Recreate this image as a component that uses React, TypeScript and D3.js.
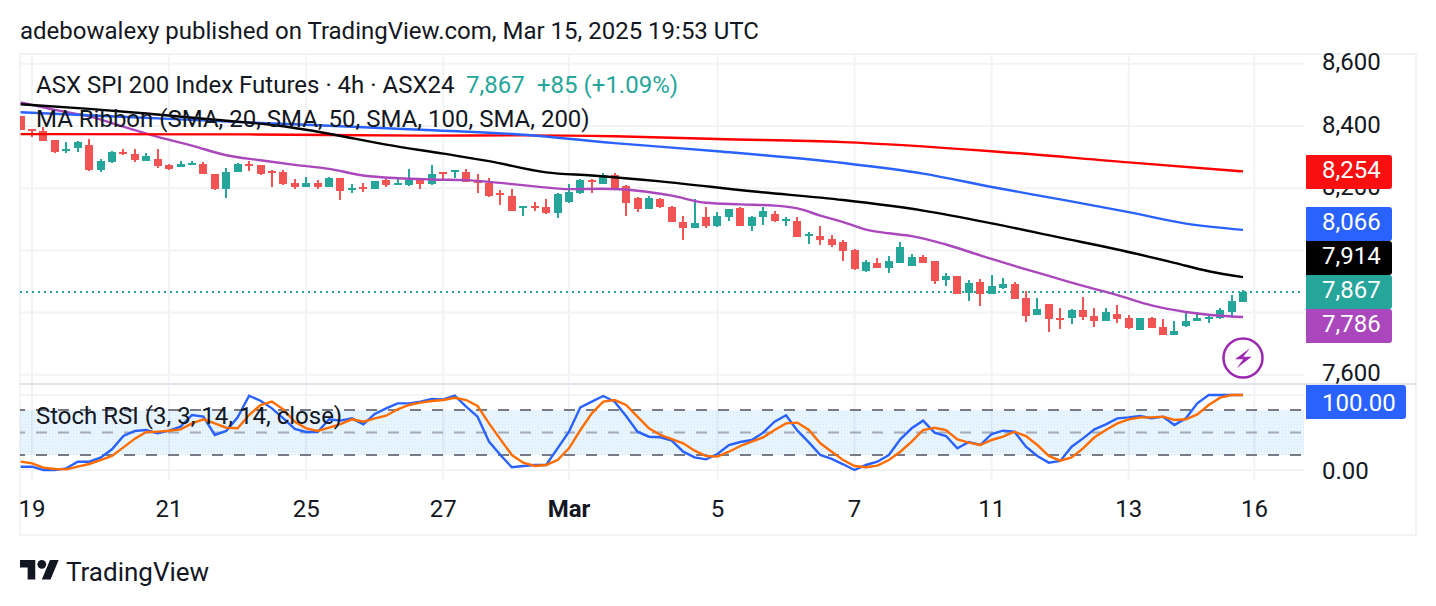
import React from "react";
import * as d3 from "d3";

const opens = [8431,8390,8383,8354,8319,8328,8340,8260,8283,8318,8311,8289,8294,8276,8267,8277,8279,8247,8198,8251,8277,8273,8255,8251,8216,8203,8218,8203,8234,8196,8204,8197,8225,8213,8211,8225,8215,8251,8252,8253,8223,8217,8184,8176,8140,8144,8138,8120,8157,8186,8225,8215,8241,8206,8167,8133,8164,8141,8092,8072,8106,8080,8109,8135,8080,8107,8118,8094,8096,8048,8045,8038,8026,8000,7933,7961,7945,7961,7949,7978,7965,7904,7917,7863,7897,7859,7878,7891,7846,7791,7827,7784,7782,7807,7788,7772,7795,7782,7743,7782,7753,7727,7756,7773,7779,7782,7801,7833];
const closes = [8388,8384,8351,8318,8326,8349,8260,8286,8318,8310,8292,8305,8271,8263,8279,8282,8245,8198,8252,8279,8272,8247,8250,8214,8203,8218,8203,8234,8191,8200,8199,8224,8209,8216,8225,8213,8247,8246,8258,8219,8219,8174,8179,8128,8143,8138,8119,8180,8189,8226,8219,8243,8202,8152,8133,8167,8138,8091,8072,8087,8080,8111,8134,8080,8109,8128,8093,8100,8042,8052,8035,8016,7998,7939,7962,7945,7965,8010,7978,7961,7901,7917,7859,7894,7859,7884,7891,7843,7788,7811,7779,7779,7807,7785,7772,7801,7779,7750,7782,7750,7727,7740,7772,7782,7785,7807,7836,7867];
const highs = [8431,8390,8397,8356,8349,8353,8358,8294,8320,8326,8326,8313,8326,8278,8286,8288,8284,8247,8265,8281,8289,8275,8257,8257,8230,8236,8225,8236,8234,8214,8216,8224,8234,8228,8262,8230,8275,8253,8259,8263,8247,8234,8194,8196,8143,8155,8164,8186,8212,8228,8228,8250,8250,8209,8171,8175,8170,8144,8112,8166,8138,8122,8134,8138,8112,8138,8127,8109,8106,8058,8080,8048,8032,8003,7968,7974,7981,8026,7987,7984,7965,7926,7917,7904,7907,7920,7910,7900,7868,7846,7827,7814,7811,7849,7814,7814,7824,7791,7782,7785,7779,7772,7798,7801,7795,7814,7856,7872];
const lows = [8388,8364,8351,8312,8312,8315,8255,8251,8281,8308,8283,8289,8264,8258,8267,8276,8245,8194,8170,8251,8255,8241,8203,8209,8198,8203,8197,8203,8161,8184,8188,8197,8203,8209,8206,8197,8210,8230,8234,8219,8186,8171,8145,8126,8112,8128,8117,8104,8154,8180,8186,8212,8200,8112,8122,8133,8135,8091,8032,8072,8071,8075,8093,8080,8062,8083,8090,8077,8042,8022,8016,8010,7965,7937,7929,7945,7926,7961,7949,7961,7891,7885,7859,7836,7820,7859,7875,7843,7769,7791,7737,7747,7763,7775,7753,7772,7766,7747,7743,7750,7727,7727,7753,7772,7766,7779,7782,7833];

const sma20Idx = [0,3,6,9,12,15,18,21,24,27,30,33,36,39,42,45,48,51,54,57,60,63,66,68,70,72,74,76,78,81,84,87,90,93,96,99,102,105,107];
const sma20 = [8476,8452,8431,8398,8365,8337,8306,8290,8275,8262,8241,8232,8228,8226,8217,8206,8197,8198,8192,8176,8153,8148,8144,8135,8112,8091,8067,8055,8046,8019,7984,7950,7918,7886,7856,7823,7802,7790,7786];
const sma50Idx = [0,6,11,17,23,27,32,37,41,46,50,56,64,72,79,85,91,96,101,104,107];
const sma50 = [8470,8455,8440,8420,8399,8375,8340,8311,8287,8251,8241,8222,8190,8162,8128,8087,8041,8003,7960,7933,7914];
const sma100Idx = [0,13,21,27,35,44,52,61,72,79,85,91,97,102,107];
const sma100 = [8444,8423,8410,8401,8388,8372,8345,8319,8281,8247,8204,8164,8123,8086,8066];
const sma200Idx = [0,20,35,44,52,61,72,85,97,107];
const sma200 = [8374,8373,8369,8370,8367,8358,8348,8319,8283,8254];

const stochK = [4.4,4.4,0,0,2.2,11.1,11.1,16.4,27.6,45.3,52,53.3,48.9,52.4,57.8,73.3,71.1,46.7,52,70.2,99.1,92.4,82.2,68.9,54.7,50.7,50.7,67.6,65.8,68.9,60.9,74.7,82.2,88.9,88.9,91.1,94.7,94.2,99.1,84.4,71.1,37.8,20,3.6,5.3,6.7,6.7,28.9,51.1,83.6,91.1,98.7,91.1,72,51.1,44.4,43.6,39.1,24.4,16.9,14.2,21.3,33.3,37.3,40,49.8,64.4,72.9,52.4,36.9,20,14.7,7.6,0,6.7,11.1,20,40.9,55.6,65.8,49.8,45.3,28.9,37.3,33.3,48,52.4,51.1,31.1,18.7,9.8,12,31.1,42.2,54.2,60.9,68.9,70.2,72,68.9,71.1,60,68.9,88.9,100,100,100,100];
const stochD = [11.1,8.9,3.1,1.3,0.9,4.4,8,13.3,18.7,30.2,41.8,50.7,51.1,52.4,54.2,62.2,67.6,62.2,56.4,55.6,73.3,86.7,91.1,80.9,64.4,55.6,52,56.4,61.3,67.6,64.4,68.9,72.4,80.9,86.7,89.8,92,93.3,96.4,93.3,85.3,62.2,40.9,20,9.8,5.3,6.7,13.3,28.9,53.3,75.6,91.1,93.3,86.7,71.1,55.6,46.7,41.3,35.6,25.8,18.7,17.8,24.4,32,37.8,43.6,53.3,62.2,63.1,53.3,35.6,24.4,13.3,5.3,3.6,5.8,13.3,24.4,37.8,53.3,56.4,53.3,40.9,36.4,33.3,40,44.4,51.1,45.3,33.3,18.7,12.4,16.9,28.9,43.6,53.3,62.2,67.6,70.2,70.2,71.1,66.7,67.6,74.2,86.7,96.4,100,100];

const priceTicks = [8600,8400,8200,8000,7800,7600];
const stochGrid = [100,0];
const stochBands = [80,50,20];
const timeTickIdx = [1,13,25,37,48,61,73,85,97,108];
const timeTickLabels = ["19","21","25","27","Mar","5","7","11","13","16"];
const priceBadges = [
  { label: "8,254", color: "#f90f0f", value: 8254, top: 155 },
  { label: "8,066", color: "#2962ff", value: 8066, top: 207 },
  { label: "7,914", color: "#000000", value: 7914, top: 241 },
  { label: "7,867", color: "#26a69a", value: 7867, top: 275 },
  { label: "7,786", color: "#ab47bc", value: 7786, top: 309 },
];

const FONT = "Roboto, sans-serif";
const TEXT = "#131722";
const GRID = "#f2f3f4";
const UP = "#26a69a";
const DOWN = "#f25353";
const L = 20, R = 1304;

const x = d3.scaleLinear().domain([0, 107]).range([20.6, 1243]);
const y = d3.scaleLinear().domain([7600, 8600]).range([374.8, 63.8]);
const yS = d3.scaleLinear().domain([0, 100]).range([470, 395]);

const maLine = (idx: number[], vals: number[]) =>
  d3.line<number>().x((_, i) => x(idx[i])).y((v) => y(v)).curve(d3.curveMonotoneX)(vals) || "";
const oscLine = (vals: number[]) =>
  d3.line<number>().x((_, i) => x(i)).y((v) => yS(v))(vals) || "";

export default function App() {
  return (
    <svg
      width={1436}
      height={606}
      style={{ position: "fixed", left: 0, top: 0, background: "#fff", fontFamily: FONT }}
    >
      <defs>
        <clipPath id="main"><rect x={L} y={55} width={R - L} height={329} /></clipPath>
        <clipPath id="osc"><rect x={L} y={385} width={R - L} height={96} /></clipPath>
        <pattern id="dots" width={3} height={3} patternUnits="userSpaceOnUse">
          <rect x={1} y={1} width={1} height={1} fill="rgba(33,150,243,0.1)" />
        </pattern>
      </defs>

      <text x={20} y={39} fontSize={24} fill={TEXT}>adebowalexy published on TradingView.com, Mar 15, 2025 19:53 UTC</text>

      {/* frame */}
      <rect x={20} y={54} width={1396} height={481} fill="none" stroke={GRID} strokeWidth={2} />

      {/* grid */}
      {priceTicks.map((t) => (
        <line key={t} x1={L} x2={R} y1={y(t)} y2={y(t)} stroke={GRID} strokeWidth={2} />
      ))}
      {stochGrid.map((t) => (
        <line key={t} x1={L} x2={R} y1={yS(t)} y2={yS(t)} stroke={GRID} strokeWidth={2} />
      ))}
      {timeTickIdx.map((t) => (
        <line key={t} x1={x(t)} x2={x(t)} y1={55} y2={480} stroke={GRID} strokeWidth={2} />
      ))}
      <line x1={L} x2={1416} y1={384} y2={384} stroke="#e0e3eb" strokeWidth={2} />

      {/* stoch band */}
      <rect x={L} y={yS(80)} width={R - L} height={yS(20) - yS(80)} fill="rgba(33,150,243,0.1)" />
      <rect x={L} y={yS(80)} width={R - L} height={yS(20) - yS(80)} fill="url(#dots)" />
      {stochBands.map((t) => (
        <line key={t} x1={L} x2={R} y1={yS(t)} y2={yS(t)}
          stroke={t === 50 ? "rgba(120,123,134,0.6)" : "#787b86"} strokeWidth={2}
          strokeDasharray="11 11" strokeDashoffset={6} />
      ))}

      {/* stoch lines */}
      <g clipPath="url(#osc)" fill="none" strokeWidth={2.4}>
        <path d={oscLine(stochK)} stroke="#2962ff" />
        <path d={oscLine(stochD)} stroke="#ff6d00" />
      </g>

      {/* main pane */}
      <g clipPath="url(#main)">
        <line x1={L} x2={R} y1={y(7867)} y2={y(7867)} stroke={UP} strokeWidth={2} strokeDasharray="2 4" shapeRendering="crispEdges" />
        {opens.map((o, i) => {
          const c = closes[i];
          const col = c >= o ? UP : DOWN;
          const top = y(Math.max(o, c));
          const h = Math.max(2, Math.abs(y(o) - y(c)));
          return (
            <g key={i} fill={col} shapeRendering="crispEdges">
              <rect x={x(i) - 1} y={y(highs[i])} width={2} height={y(lows[i]) - y(highs[i])} />
              <rect x={x(i) - 4} y={top} width={8} height={h} />
            </g>
          );
        })}
        <g fill="none" strokeWidth={2.4}>
          <path d={maLine(sma20Idx, sma20)} stroke="#ab47bc" />
          <path d={maLine(sma200Idx, sma200)} stroke="#ff0000" />
          <path d={maLine(sma100Idx, sma100)} stroke="#2962ff" />
          <path d={maLine(sma50Idx, sma50)} stroke="#000000" />
        </g>
      </g>

      {/* lightning */}
      <circle cx={1243} cy={358} r={19.5} fill="#fff" stroke="#9c27b0" strokeWidth={2.5} />
      <path d="M1250 348.3 L1235 359.3 L1243.3 359.3 L1236.7 368.3 L1251.7 356.7 L1243.3 356.7 Z" fill="#9c27b0" />

      {/* legend */}
      <text x={36} y={93} fontSize={24} fill={TEXT}>ASX SPI 200 Index Futures · 4h · ASX24</text>
      <text x={466} y={93} fontSize={24} fill={UP}>7,867</text>
      <text x={537} y={93} fontSize={24} fill={UP}>+85 (+1.09%)</text>
      <text x={36} y={127} fontSize={24} fill={TEXT}>MA Ribbon (SMA, 20, SMA, 50, SMA, 100, SMA, 200)</text>
      <text x={36} y={424} fontSize={24} fill={TEXT}>Stoch RSI (3, 3, 14, 14, close)</text>

      {/* price axis */}
      {priceTicks.map((t) => (
        <text key={t} x={1322} y={y(t) + 6.5} fontSize={24} fill={TEXT}>{d3.format(",")(t)}</text>
      ))}
      <text x={1322} y={478.5} fontSize={24} fill={TEXT}>0.00</text>

      {priceBadges.map((b) => (
        <g key={b.label}>
          <path d={`M1306 ${b.top} H1389 a3 3 0 0 1 3 3 V${b.top + 31} a3 3 0 0 1 -3 3 H1306 Z`} fill={b.color} />
          <text x={1322} y={b.top + 23} fontSize={24} fill="#fff">{b.label}</text>
        </g>
      ))}
      <path d="M1306 385 H1403 a3 3 0 0 1 3 3 V416 a3 3 0 0 1 -3 3 H1306 Z" fill="#2962ff" />
      <text x={1322} y={410.5} fontSize={24} fill="#fff">100.00</text>

      {/* time axis */}
      {timeTickIdx.map((t, i) => (
        <text key={t} x={x(t)} y={517} fontSize={24} textAnchor="middle" fill={TEXT}
          fontWeight={timeTickLabels[i] === "Mar" ? 700 : 400}>{timeTickLabels[i]}</text>
      ))}

      {/* logo */}
      <g transform="translate(20,555.6) scale(1.09)" fill="#131722">
        <path d="M14 22H7V11H0V4h14v18zM28 22h-8l7.5-18h8L28 22z" />
        <circle cx={20} cy={8} r={4} />
      </g>
      <text x={66} y={581} fontSize={26} fill={TEXT}>TradingView</text>
    </svg>
  );
}
